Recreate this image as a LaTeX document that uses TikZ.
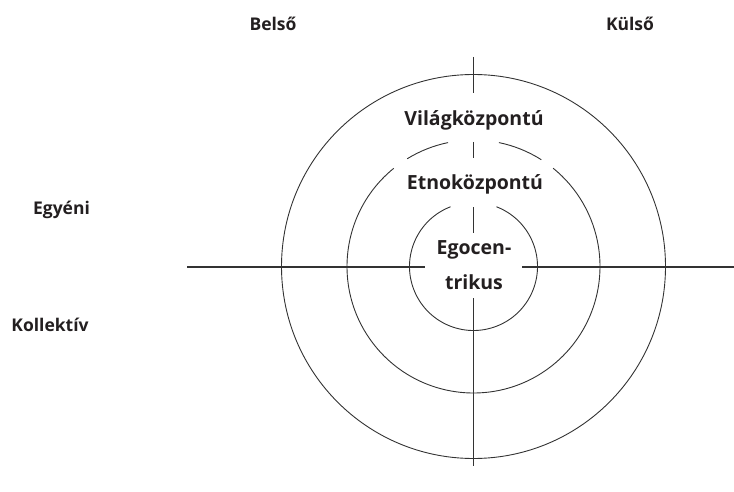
\documentclass[tikz,border=0pt]{standalone}
\usepackage{fontspec}
\newfontfamily\labfont{Open Sans}
\definecolor{txt}{HTML}{231F20}
\definecolor{ln}{HTML}{333333}
\begin{document}
\begin{tikzpicture}[x=1pt,y=1pt,
  lbl/.style={font=\labfont\bfseries\fontsize{16.5}{34}\selectfont, text=txt, inner sep=0pt, align=center},
  side/.style={lbl, font=\labfont\bfseries\fontsize{17.5}{34}\selectfont},
  inner/.style={lbl, font=\labfont\bfseries\fontsize{19.5}{35}\selectfont},
  axis/.style={draw=ln, line width=1.1pt},
  ring/.style={draw=ln, line width=0.9pt}]
\useasboundingbox (0,0) rectangle (734,491);
\coordinate (c) at (473.5,224.5);
% vertical axis pieces
\coordinate (v1a) at (473.5,434); \coordinate (v1b) at (473.5,398);
\coordinate (v2a) at (473.5,349); \coordinate (v2b) at (473.5,333);
\coordinate (v3a) at (473.5,284); \coordinate (v3b) at (473.5,258);
\coordinate (v4a) at (473.5,193); \coordinate (v4b) at (473.5,25);
\draw[axis] (v1a) -- (v1b);
\draw[axis] (v2a) -- (v2b);
\draw[axis] (v3a) -- (v3b);
\draw[axis] (v4a) -- (v4b);
% horizontal axis pieces
\coordinate (h1a) at (187,224); \coordinate (h1b) at (425,224);
\coordinate (h2a) at (522,224); \coordinate (h2b) at (734,224);
\draw[axis] (h1a) -- (h1b);
\draw[axis] (h2a) -- (h2b);
% rings
\draw[ring] (c) circle[radius=192];
\draw[ring] (c) ++(101.6:126.5) arc[start angle=101.6, end angle=121.6, radius=126.5];
\draw[ring] (c) ++(129.1:126.5) arc[start angle=129.1, end angle=411, radius=126.5];
\draw[ring] (c) ++(57.6:126.5) arc[start angle=57.6, end angle=78.4, radius=126.5];
\draw[ring] (c) ++(111:64) arc[start angle=111, end angle=429, radius=64];
% labels
\node[side] (belso) at (273,467) {Belső};
\node[side] (kulso) at (630,467) {Külső};
\node[side] (egyeni) at (61.5,281) {Egyéni};
\node[side] (koll) at (50,166) {Kollektív};
\node[inner] (vilag) at (474,371) {Világközpontú};
\node[inner] (etno) at (475,307) {Etnoközpontú};
\node[inner] (ego) at (474,225.5) {Egocen-\\trikus};
\end{tikzpicture}
\end{document}
